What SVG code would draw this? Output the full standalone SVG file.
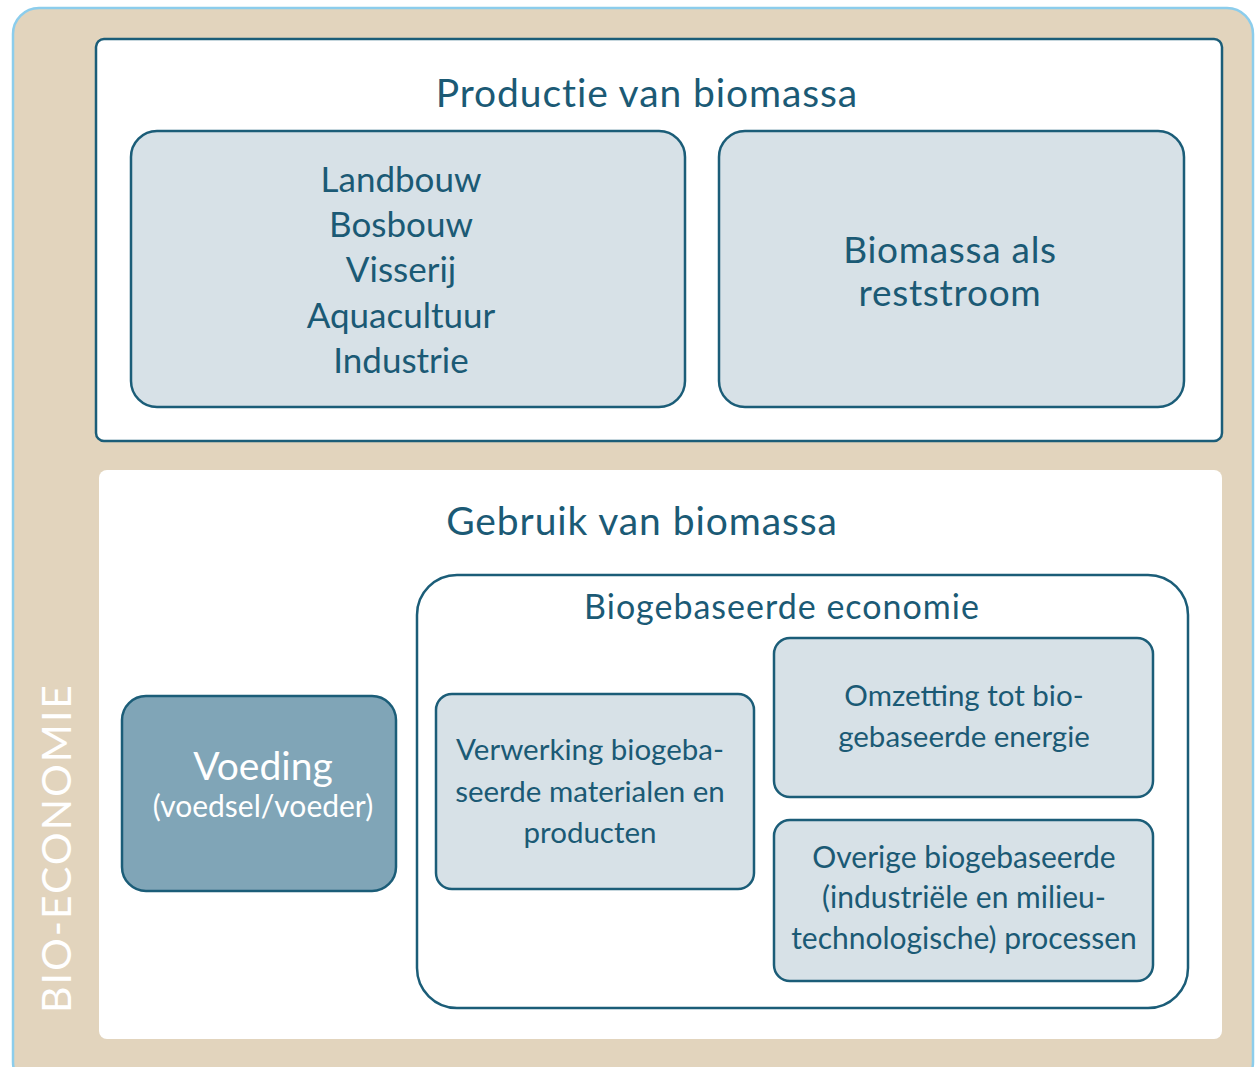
<svg xmlns="http://www.w3.org/2000/svg" width="1260" height="1067" viewBox="0 0 1260 1067">
<style>
.box{fill:#d7e1e7;stroke:#1b5d78;stroke-width:2.5}
.t{font-family:Lato,"Open Sans",sans-serif;fill:#1b5a75;text-anchor:middle}
</style>
<rect width="1260" height="1067" fill="#ffffff"/>
<g id="bio-economie">
<rect x="13" y="8" width="1240" height="1080" rx="26" fill="#e2d4bd" stroke="#8ccdec" stroke-width="2.5"/>
<text transform="translate(71,848) rotate(-90)" text-anchor="middle" font-family="Lato,'Open Sans',sans-serif" font-size="41" letter-spacing="2" fill="#ffffff">BIO-ECONOMIE</text>
</g>
<g id="productie">
<rect x="96" y="39" width="1126" height="402" rx="8" fill="#ffffff" stroke="#1b5d78" stroke-width="2.5"/>
<text class="t" x="647" y="107" font-size="39" letter-spacing="0.9">Productie van biomassa</text>
</g>
<g id="landbouw">
<rect class="box" x="131" y="131" width="554" height="276" rx="26"/>
<text class="t" font-size="35"><tspan x="401" y="192">Landbouw</tspan><tspan x="401" y="237">Bosbouw</tspan><tspan x="401" y="282">Visserij</tspan><tspan x="401" y="328">Aquacultuur</tspan><tspan x="401" y="373">Industrie</tspan></text>
</g>
<g id="reststroom">
<rect class="box" x="719" y="131" width="465" height="276" rx="26"/>
<text class="t" font-size="37" letter-spacing="0.7"><tspan x="950" y="263">Biomassa als</tspan><tspan x="950" y="306">reststroom</tspan></text>
</g>
<g id="gebruik">
<rect x="99" y="470" width="1123" height="569" rx="8" fill="#ffffff"/>
<text class="t" x="642" y="535" font-size="39" letter-spacing="0.9">Gebruik van biomassa</text>
</g>
<g id="biogebaseerde">
<rect x="417" y="575" width="771" height="433" rx="40" fill="#ffffff" stroke="#1b5d78" stroke-width="2.5"/>
<text class="t" x="782" y="619" font-size="34" letter-spacing="1">Biogebaseerde economie</text>
</g>
<g id="voeding">
<rect x="122" y="696" width="274" height="195" rx="24" fill="#80a5b7" stroke="#1b5d78" stroke-width="2.5"/>
<text x="263" y="780" text-anchor="middle" font-family="Lato,'Open Sans',sans-serif" font-size="39" fill="#ffffff">Voeding</text>
<text x="263" y="817" text-anchor="middle" font-family="Lato,'Open Sans',sans-serif" font-size="30" fill="#ffffff">(voedsel/voeder)</text>
</g>
<g id="verwerking">
<rect class="box" x="436" y="694" width="318" height="195" rx="16"/>
<text class="t" font-size="29.5"><tspan x="590" y="760">Verwerking biogeba-</tspan><tspan x="590" y="802">seerde materialen en</tspan><tspan x="590" y="843">producten</tspan></text>
</g>
<g id="omzetting">
<rect class="box" x="774" y="638" width="379" height="159" rx="16"/>
<text class="t" font-size="29.5"><tspan x="964" y="706">Omzetting tot bio-</tspan><tspan x="964" y="747">gebaseerde energie</tspan></text>
</g>
<g id="overige">
<rect class="box" x="774" y="820" width="379" height="161" rx="16"/>
<text class="t" font-size="30"><tspan x="964" y="868">Overige biogebaseerde</tspan><tspan x="964" y="908">(industriële en milieu-</tspan><tspan x="964" y="949">technologische) processen</tspan></text>
</g>
<g id="connectors"></g>
</svg>
